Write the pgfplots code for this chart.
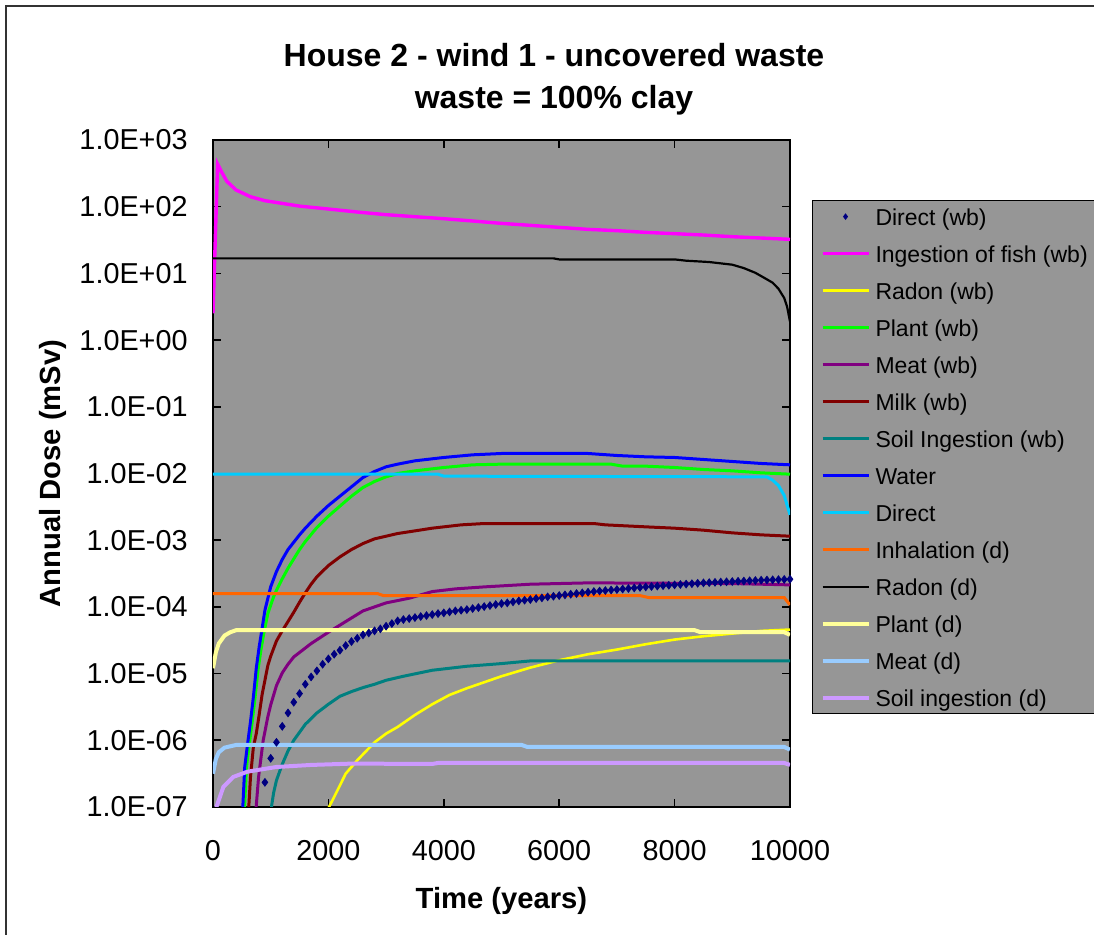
\documentclass[border=0pt]{standalone}
\usepackage{fontspec}
\setmainfont{Liberation Sans}
\usepackage{pgfplots}
\pgfplotsset{compat=1.18}
\definecolor{plotgray}{RGB}{150,150,150}
\definecolor{cNavy}{RGB}{0,0,128}
\definecolor{cFish}{RGB}{255,0,255}
\definecolor{cRadonwb}{RGB}{255,255,0}
\definecolor{cPlantwb}{RGB}{0,255,0}
\definecolor{cMeatwb}{RGB}{128,0,128}
\definecolor{cMilk}{RGB}{128,0,0}
\definecolor{cSoilwb}{RGB}{0,128,128}
\definecolor{cWater}{RGB}{0,0,255}
\definecolor{cDirect}{RGB}{0,204,255}
\definecolor{cInhal}{RGB}{255,102,0}
\definecolor{cPlantd}{RGB}{255,255,153}
\definecolor{cMeatd}{RGB}{153,204,255}
\definecolor{cSoild}{RGB}{204,153,255}
\pgfplotsset{
  legline/.style={legend image code/.code={\draw[##1] (0pt,0pt) -- (23pt,0pt);}},
  legmark/.style={legend image code/.code={\draw[##1, mark size=1.2pt] plot coordinates {(11.5pt,0pt)};}},
}
\begin{document}
\begin{tikzpicture}
\useasboundingbox (0,0) rectangle (547pt,467.5pt);
\draw[line width=0.6pt, black!80] (3pt,0) -- (3pt,464.5pt) -- (547pt,464.5pt);
\begin{axis}[
  at={(106.5pt,64pt)}, anchor=south west,
  scale only axis, width=288.5pt, height=333.5pt,
  xmin=0, xmax=10000, ymin=1e-7, ymax=1e3, ymode=log,
  axis background/.style={fill=plotgray},
  axis line style={line width=0.9pt, black},
  tick align=inside, major tick length=4pt,
  tick style={black, line width=0.8pt},
  yminorticks=false, xminorticks=false,
  scaled x ticks=false,
  xtick={0,2000,4000,6000,8000,10000},
  xticklabels={0,2000,4000,6000,8000,10000},
  ytick={1e-7,1e-6,1e-5,1e-4,1e-3,1e-2,1e-1,1e0,1e1,1e2,1e3},
  yticklabels={1.0E-07,1.0E-06,1.0E-05,1.0E-04,1.0E-03,1.0E-02,1.0E-01,1.0E+00,1.0E+01,1.0E+02,1.0E+03},
  ticklabel style={font=\fontsize{14.4}{16}\selectfont},
  yticklabel style={anchor=east, inner sep=0pt, xshift=-12.5pt},
  xticklabel style={anchor=north, inner sep=0pt, yshift=-16.5pt},
  xlabel={Time (years)},
  ylabel={Annual Dose (mSv)},
  xlabel style={at={(axis description cs:0.5,-0.1522)}, anchor=base, font=\bfseries\fontsize{14.6}{16}\selectfont},
  ylabel style={at={(axis description cs:-0.2645,0.5)}, anchor=base, rotate=0, font=\bfseries\fontsize{14.6}{16}\selectfont},
  legend style={at={(1.038,0.910)}, anchor=north west, fill=plotgray, draw=black, line width=0.6pt,
    font=\fontsize{11.5}{13}\selectfont, inner xsep=4pt, inner ysep=2pt, row sep=6.5pt,
    nodes={inner sep=0pt, text height=10.5pt, text depth=1.5pt},
    /tikz/every odd column/.append style={column sep=2.5pt}},
  legend cell align=left,
  legline,
]
% Direct (wb)
\addplot[only marks, mark=diamond*, mark size=1.9pt, color=cNavy, legmark] coordinates {
(900,2.34e-7)(1000,5.37e-7)(1100,9.33e-7)(1200,1.62e-6)(1300,2.57e-6)(1400,3.72e-6)(1500,5.01e-6)(1600,6.92e-6)(1700,8.91e-6)(1800,1.10e-5)
(1900,1.38e-5)(2000,1.66e-5)(2100,1.95e-5)(2200,2.24e-5)(2300,2.63e-5)(2400,3.02e-5)(2500,3.39e-5)(2600,3.80e-5)(2700,4.07e-5)(2800,4.37e-5)
(2900,4.68e-5)(3000,5.13e-5)(3100,5.62e-5)(3200,6.17e-5)(3300,6.46e-5)(3400,6.68e-5)(3500,6.92e-5)(3600,7.16e-5)(3700,7.41e-5)(3800,7.67e-5)
(3900,7.94e-5)(4000,8.13e-5)(4100,8.41e-5)(4200,8.71e-5)(4300,8.91e-5)(4400,9.12e-5)(4500,9.44e-5)(4600,9.77e-5)(4700,1.01e-4)(4800,1.047e-4)
(4900,1.084e-4)(5000,1.122e-4)(5100,1.148e-4)(5200,1.189e-4)(5300,1.230e-4)(5400,1.259e-4)(5500,1.288e-4)(5600,1.334e-4)(5700,1.365e-4)(5800,1.413e-4)
(5900,1.445e-4)(6000,1.479e-4)(6100,1.514e-4)(6200,1.549e-4)(6300,1.585e-4)(6400,1.622e-4)(6500,1.660e-4)(6600,1.698e-4)(6700,1.730e-4)(6800,1.758e-4)
(6900,1.791e-4)(7000,1.820e-4)(7100,1.854e-4)(7200,1.888e-4)(7300,1.923e-4)(7400,1.959e-4)(7500,1.995e-4)(7600,2.023e-4)(7700,2.051e-4)(7800,2.080e-4)
(7900,2.109e-4)(8000,2.138e-4)(8100,2.168e-4)(8200,2.198e-4)(8300,2.228e-4)(8400,2.259e-4)(8500,2.291e-4)(8600,2.312e-4)(8700,2.333e-4)(8800,2.355e-4)
(8900,2.377e-4)(9000,2.399e-4)(9100,2.421e-4)(9200,2.443e-4)(9300,2.466e-4)(9400,2.489e-4)(9500,2.512e-4)(9600,2.529e-4)(9700,2.547e-4)(9800,2.564e-4)
(9900,2.582e-4)(10000,2.600e-4)
};
\addlegendentry{Direct (wb)}
% Ingestion of fish (wb)
\addplot[color=cFish, line width=1.7pt] coordinates {
(0,2.51)(80,436)(150,331)(240,240)(400,178)(650,141)(900,123)(1200,112)(1500,102)(2000,92.3)(2500,83.2)(3000,75.9)(3500,70.8)(4000,66.1)
(4500,61.0)(5000,56.2)(5500,52.5)(6000,49.0)(6500,45.7)(7000,43.7)(7500,41.2)(8000,39.4)(8500,37.6)(9000,35.5)(9500,33.9)(10000,32.4)
};
\addlegendentry{Ingestion of fish (wb)}
% Radon (wb)
\addplot[color=cRadonwb, line width=1.3pt] coordinates {
(1950,7.94e-8)(2100,1.413e-7)(2300,3.16e-7)(2500,5.01e-7)(2800,9.33e-7)(3000,1.259e-6)(3200,1.585e-6)(3500,2.40e-6)(3800,3.47e-6)(4100,4.79e-6)
(4400,6.03e-6)(5000,9.12e-6)(5500,1.230e-5)(6000,1.585e-5)(6500,1.950e-5)(7000,2.291e-5)(7500,2.754e-5)(8000,3.236e-5)(8500,3.631e-5)(9000,3.981e-5)
(9500,4.365e-5)(10000,4.571e-5)
};
\addlegendentry{Radon (wb)}
% Plant (wb)
\addplot[color=cPlantwb, line width=1.5pt] coordinates {
(530,5.0e-8)(580,3.98e-7)(630,8.91e-7)(680,1.905e-6)(730,4.47e-6)(780,1.122e-5)(830,2.24e-5)(880,3.98e-5)(950,7.94e-5)(1050,1.413e-4)
(1100,1.778e-4)(1200,2.63e-4)(1300,3.80e-4)(1400,5.25e-4)(1500,7.24e-4)(1600,9.55e-4)(1800,1.549e-3)(2000,2.29e-3)(2200,3.24e-3)(2400,4.57e-3)
(2600,6.17e-3)(2800,7.59e-3)(3000,8.91e-3)(3200,1.0e-2)(3500,1.096e-2)(4000,1.230e-2)(4500,1.349e-2)(5000,1.380e-2)(6000,1.380e-2)(6900,1.380e-2)
(7100,1.288e-2)(7500,1.288e-2)(8000,1.230e-2)(8500,1.148e-2)(9000,1.096e-2)(9500,1.023e-2)(10000,9.77e-3)
};
\addlegendentry{Plant (wb)}
% Meat (wb)
\addplot[color=cMeatwb, line width=1.5pt] coordinates {
(720,5.0e-8)(790,2.82e-7)(870,1.0e-6)(950,2.24e-6)(1000,3.39e-6)(1100,6.61e-6)(1200,1.023e-5)(1300,1.380e-5)(1400,1.778e-5)(1700,2.82e-5)
(2000,4.17e-5)(2300,6.03e-5)(2600,8.71e-5)(3000,1.148e-4)(3400,1.349e-4)(3800,1.698e-4)(4200,1.862e-4)(4700,1.995e-4)(5500,2.188e-4)(6500,2.291e-4)
(9000,2.239e-4)(10000,2.138e-4)
};
\addlegendentry{Meat (wb)}
% Milk (wb)
\addplot[color=cMilk, line width=1.5pt] coordinates {
(600,5.0e-8)(650,2.82e-7)(700,7.94e-7)(750,1.259e-6)(800,2.40e-6)(850,4.79e-6)(900,7.94e-6)(950,1.318e-5)(1000,1.820e-5)(1100,3.09e-5)
(1200,4.37e-5)(1300,6.03e-5)(1400,8.32e-5)(1500,1.175e-4)(1600,1.622e-4)(1700,2.188e-4)(1800,2.818e-4)(2000,4.17e-4)(2200,5.62e-4)(2400,7.24e-4)
(2600,8.91e-4)(2800,1.047e-3)(3000,1.148e-3)(3200,1.259e-3)(3500,1.380e-3)(3800,1.514e-3)(4300,1.698e-3)(4700,1.778e-3)(6600,1.778e-3)(6800,1.698e-3)
(7500,1.585e-3)(8000,1.514e-3)(8500,1.413e-3)(9000,1.288e-3)(9500,1.202e-3)(10000,1.148e-3)
};
\addlegendentry{Milk (wb)}
% Soil Ingestion (wb)
\addplot[color=cSoilwb, line width=1.5pt] coordinates {
(960,5.0e-8)(1050,1.622e-7)(1100,2.51e-7)(1200,4.37e-7)(1300,6.92e-7)(1400,1.0e-6)(1500,1.318e-6)(1600,1.738e-6)(1800,2.57e-6)(2000,3.47e-6)
(2200,4.57e-6)(2400,5.37e-6)(2600,6.17e-6)(2800,6.92e-6)(3000,7.94e-6)(3300,9.12e-6)(3800,1.122e-5)(4400,1.288e-5)(5000,1.413e-5)(5500,1.549e-5)
(10000,1.549e-5)
};
\addlegendentry{Soil Ingestion (wb)}
% Water
\addplot[color=cWater, line width=1.5pt] coordinates {
(500,5.0e-8)(550,3.98e-7)(600,8.91e-7)(650,1.905e-6)(700,4.47e-6)(750,1.202e-5)(800,2.51e-5)(850,4.68e-5)(900,8.91e-5)(1000,2.00e-4)
(1100,3.39e-4)(1200,5.13e-4)(1300,7.24e-4)(1400,9.33e-4)(1500,1.202e-3)(1600,1.514e-3)(1800,2.29e-3)(2000,3.31e-3)(2200,4.57e-3)(2400,6.31e-3)
(2600,8.71e-3)(2800,1.072e-2)(3000,1.259e-2)(3200,1.380e-2)(3500,1.549e-2)(4000,1.738e-2)(4500,1.905e-2)(5000,1.995e-2)(6000,1.995e-2)(6500,1.995e-2)
(7000,1.862e-2)(7500,1.778e-2)(8000,1.738e-2)(8500,1.622e-2)(9000,1.514e-2)(9500,1.413e-2)(10000,1.349e-2)
};
\addlegendentry{Water}
% Direct
\addplot[color=cDirect, line width=1.5pt] coordinates {
(0,9.77e-3)(3900,9.77e-3)(4000,9.12e-3)(9600,8.91e-3)(9700,7.94e-3)(9800,6.61e-3)(9900,4.68e-3)(10000,2.40e-3)
};
\addlegendentry{Direct}
% Inhalation (d)
\addplot[color=cInhal, line width=1.5pt] coordinates {
(0,1.585e-4)(2850,1.585e-4)(2950,1.479e-4)(7400,1.479e-4)(7550,1.380e-4)(9900,1.380e-4)(10000,1.072e-4)
};
\addlegendentry{Inhalation (d)}
% Radon (d)
\addplot[color=black, line width=1.1pt] coordinates {
(0,16.8)(5900,16.8)(6000,16.2)(8000,16.2)(8200,15.5)(8600,14.8)(9000,13.5)(9200,12.0)(9400,10.2)(9600,8.13)(9700,7.24)(9800,5.89)(9900,4.27)(9950,3.16)(10000,1.89)
};
\addlegendentry{Radon (d)}
% Plant (d)
\addplot[color=cPlantd, line width=2pt] coordinates {
(0,1.202e-5)(50,2.09e-5)(100,2.82e-5)(200,3.72e-5)(300,4.17e-5)(400,4.47e-5)(8350,4.47e-5)(8450,4.17e-5)(9900,4.17e-5)(10000,3.80e-5)
};
\addlegendentry{Plant (d)}
% Meat (d)
\addplot[color=cMeatd, line width=2pt] coordinates {
(0,3.16e-7)(50,5.25e-7)(100,6.61e-7)(200,7.76e-7)(400,8.51e-7)(5350,8.51e-7)(5450,7.94e-7)(9900,7.94e-7)(10000,7.24e-7)
};
\addlegendentry{Meat (d)}
% Soil ingestion (d)
\addplot[color=cSoild, line width=2pt] coordinates {
(0,6.31e-8)(60,1.0e-7)(180,2.0e-7)(350,2.82e-7)(600,3.39e-7)(1100,3.98e-7)(1700,4.27e-7)(2400,4.47e-7)(3800,4.42e-7)(3900,4.57e-7)(9900,4.57e-7)(10000,4.27e-7)
};
\addlegendentry{Soil ingestion (d)}
\end{axis}
\node[font=\bfseries\fontsize{16}{20}\selectfont, anchor=base] at (277pt,434.25pt) {House 2 - wind 1 - uncovered waste};
\node[font=\bfseries\fontsize{16}{20}\selectfont, anchor=base] at (277pt,413.25pt) {waste = 100\% clay};
\end{tikzpicture}
\end{document}
